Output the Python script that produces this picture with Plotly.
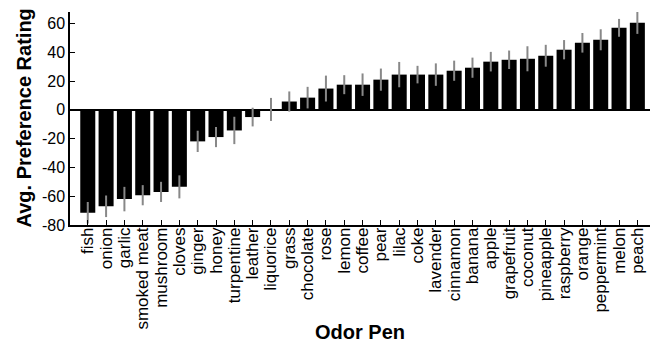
import plotly.graph_objects as go

odors = ["fish", "onion", "garlic", "smoked meat", "mushroom", "cloves", "ginger", "honey",
         "turpentine", "leather", "liquorice", "grass", "chocolate", "rose", "lemon", "coffee",
         "pear", "lilac", "coke", "lavender", "cinnamon", "banana", "apple", "grapefruit",
         "coconut", "pineapple", "raspberry", "orange", "peppermint", "melon", "peach"]
ratings = [-71.5, -67, -62, -59.3, -57, -53.5, -21.9, -18.9,
           -14.3, -5, 0.3, 5.8, 8.5, 14.8, 17.5, 17.5,
           21, 24.5, 24.5, 24.5, 27.2, 29.3, 33.5, 34.8,
           35.5, 37.6, 41.8, 46.6, 48.7, 57, 60.5]
errors = [7.5, 7.5, 8.5, 7, 7, 8, 7.4, 7,
          9.5, 6.5, 8, 7, 7.5, 9, 6.6, 7.8,
          7.7, 8.8, 6.1, 7.8, 7, 7, 6.8, 6.4,
          8.7, 7.6, 6.7, 6.8, 7.3, 6.2, 7.7]
y_ticks = [-80, -60, -40, -20, 0, 20, 40, 60]

FONT = "Arial, Liberation Sans, Helvetica, sans-serif"

fig = go.Figure(go.Bar(
    x=odors, y=ratings,
    marker=dict(color="black", line=dict(width=0)),
    error_y=dict(type="data", array=errors, visible=True, color="#888888",
                 thickness=2, width=0),
))

fig.update_layout(
    width=650, height=343,
    margin=dict(l=70, r=0, t=12, b=118),
    paper_bgcolor="white", plot_bgcolor="white",
    bargap=0.18, showlegend=False,
    font=dict(family=FONT, color="black", size=16),
    annotations=[dict(
        text="<b>Avg. Preference Rating</b>", textangle=-90,
        xref="paper", yref="paper", x=-47 / 580, y=0.5,
        xanchor="center", yanchor="middle", showarrow=False,
        font=dict(size=20, family=FONT, color="black"),
    )],
)
fig.update_xaxes(
    range=[-0.97, 30.69], tickangle=-90,
    tickmode="array", tickvals=odors, ticktext=odors,
    automargin=False, ticklabelstandoff=-6,
    showline=True, linecolor="black", linewidth=1.5,
    ticks="inside", ticklen=5, tickcolor="black", tickwidth=1,
    showgrid=False, zeroline=False,
    tickfont=dict(size=17, family=FONT, color="black"),
    title=dict(text="<b>Odor Pen</b>", font=dict(size=20, family=FONT, color="black")),
)
fig.update_yaxes(
    range=[-80, 68], tickvals=y_ticks, ticktext=[str(v) for v in y_ticks],
    automargin=False,
    showline=True, linecolor="black", linewidth=1.5,
    ticks="inside", ticklen=5, tickcolor="black", tickwidth=1,
    showgrid=False, zeroline=True, zerolinecolor="black", zerolinewidth=1.5,
    tickfont=dict(size=16, family=FONT, color="black"),
)

fig.write_html("out.html", config={"displayModeBar": False},
               post_script="document.body.style.margin='0';")
